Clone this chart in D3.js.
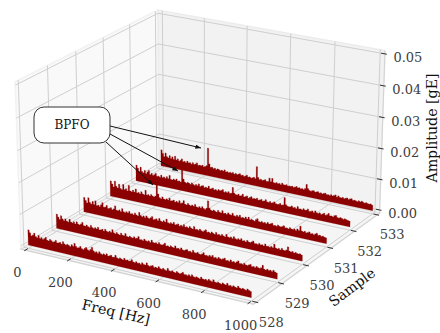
<!DOCTYPE html>
<html>
<head>
<meta charset="utf-8">
<script src="https://cdn.jsdelivr.net/npm/d3@7"></script>
<style>html,body{margin:0;padding:0;background:#fff;overflow:hidden}</style>
</head>
<body>
<svg id="drawing_region" width="440" height="333"></svg>
<script>
const freqTicks = [0, 200, 400, 600, 800, 1000];
const sampleTicks = [528, 529, 530, 531, 532, 533];
const ampTicks = [0, 0.01, 0.02, 0.03, 0.04, 0.05];

// amplitude in milli-g, low to high frequency, ten values a row
const s528 = [
4.9,4.1,3.2,3.6,4.3,3.3,3.1,3.9,3.0,3.4,
2.9,3.3,3.8,3.0,2.9,3.5,3.2,2.8,3.1,3.6,
2.9,3.0,3.3,2.8,3.7,3.1,2.8,3.2,3.0,2.7,
3.4,3.0,4.0,3.2,2.8,3.0,3.5,2.9,2.7,3.2,
3.6,3.0,2.8,3.3,4.1,3.1,2.7,3.0,2.6,3.2,
2.7,2.5,2.9,2.6,3.1,2.5,2.7,3.0,2.5,2.6,
3.3,2.6,2.4,2.8,2.6,2.4,3.0,2.5,2.7,2.4,
2.6,3.1,2.5,2.4,2.8,2.4,2.6,2.3,2.9,2.5,
2.4,3.2,2.5,2.3,2.6,2.8,2.3,2.5,2.3,2.9,
2.4,2.3,2.7,2.4,2.2,3.0,2.4,2.3,2.6,2.3,
2.2,2.7,2.4,2.2,2.5,2.9,2.3,2.4,2.2,2.6,
2.2,2.8,2.3,2.2,2.5,2.3,2.1,2.7,2.3,2.2,
2.4,2.1,2.6,2.3,2.1,2.8,2.2,2.1,2.4,2.2,
2.0,2.5,2.2,2.1,2.7,2.1,2.3,2.0,2.4,2.1,
2.0,2.6,2.2,2.0,2.3,2.1,1.9,2.4,2.1,1.9];
const s529 = [
4.6,3.8,3.1,4.4,3.5,3.0,3.7,3.1,2.9,3.9,
3.1,2.9,3.4,2.8,3.6,3.0,2.8,3.2,3.8,2.9,
2.8,3.3,2.9,2.7,3.5,2.9,2.7,3.1,2.8,3.4,
2.7,2.8,3.1,2.6,3.3,2.8,2.6,3.0,2.7,3.7,
2.8,2.6,3.1,2.7,2.5,3.2,2.7,2.6,3.4,2.6,
2.5,2.9,2.6,2.5,3.0,2.6,2.8,3.4,2.5,2.6,
2.4,3.0,2.6,2.5,2.8,2.4,3.2,2.6,2.5,2.7,
2.4,3.0,2.5,2.4,2.7,3.2,2.4,2.6,2.3,2.8,
2.5,2.4,3.1,2.4,2.6,2.3,2.9,2.4,2.3,2.6,
2.8,2.3,2.5,2.2,3.0,2.4,2.3,2.7,2.3,2.2,
2.5,3.0,2.3,2.4,2.2,2.6,2.3,2.8,2.2,2.4,
2.1,2.6,2.3,2.2,2.5,2.8,2.2,2.3,2.1,2.7,
2.2,2.4,2.1,2.5,2.9,2.2,2.3,2.1,2.6,2.2,
2.1,2.4,2.7,2.1,2.3,2.0,2.5,2.2,2.1,2.4,
3.3,2.2,2.0,2.4,2.1,2.3,2.0,2.5,2.1,1.9];
const s530 = [
4.8,3.9,3.2,5.0,3.6,3.1,4.1,3.2,4.5,3.0,
3.3,2.9,3.6,4.4,3.0,3.2,3.8,2.9,3.1,3.4,
2.8,3.2,4.3,3.0,2.9,3.3,2.8,3.9,3.0,2.8,
3.2,2.9,3.5,2.8,3.0,2.7,3.4,2.9,2.7,3.9,
3.0,2.7,3.1,2.6,3.3,2.8,2.6,3.0,3.5,2.6,
2.8,3.1,2.6,3.4,2.7,2.5,3.0,2.6,3.7,2.7,
2.5,2.9,2.6,3.2,2.5,2.7,3.0,2.4,2.8,2.5,
3.2,2.5,2.7,2.4,3.0,2.6,2.4,3.3,2.5,2.6,
2.4,2.9,2.5,2.3,2.7,3.1,2.4,2.6,2.3,2.8,
2.5,2.3,3.0,2.4,2.6,2.3,2.8,2.4,2.2,3.1,
2.4,2.3,2.6,2.2,2.9,2.4,2.2,2.6,2.3,2.8,
2.2,2.4,2.1,2.7,2.3,2.2,2.5,2.9,2.2,2.3,
2.1,2.6,2.2,2.4,2.1,2.8,2.2,2.3,2.1,2.5,
2.2,3.4,2.3,2.1,2.4,2.0,2.6,2.2,2.1,2.4,
3.5,2.3,2.1,2.4,2.0,2.3,2.1,2.0,2.2,1.9];
const s531 = [
5.1,4.2,3.3,5.3,3.7,3.2,4.6,3.3,3.0,4.8,
3.2,3.6,3.0,4.9,3.2,3.0,3.6,3.1,4.2,3.0,
3.3,2.9,3.7,3.1,2.9,4.5,3.0,3.3,2.9,3.5,
3.1,2.9,3.3,7.1,4.2,3.1,2.8,3.5,3.0,2.8,
3.2,2.9,3.6,2.8,3.0,3.3,2.7,3.1,2.8,3.5,
2.7,3.0,3.8,2.8,2.6,3.2,2.8,2.6,3.0,2.7,
3.4,2.7,2.6,3.0,2.6,3.2,2.7,2.5,3.0,5.5,
3.2,2.7,2.5,2.9,2.6,2.4,3.1,2.6,2.5,3.3,
2.5,2.7,2.4,3.0,2.6,2.5,3.2,2.5,2.4,2.9,
2.5,3.1,2.4,2.6,2.4,2.9,2.4,3.1,2.3,2.6,
2.4,2.2,2.8,3.2,2.4,2.3,2.6,2.3,2.5,2.2,
2.7,2.3,2.5,2.8,2.2,2.3,2.1,2.6,2.3,2.2,
2.5,2.8,2.2,2.3,2.1,2.6,2.3,2.2,2.5,2.1,
2.7,2.3,3.8,2.4,2.2,2.5,2.1,2.3,2.6,2.1,
2.3,2.0,2.4,2.7,2.1,2.3,2.0,2.2,2.0,1.9];
const s532 = [
5.3,4.4,3.4,4.9,3.6,3.2,4.1,3.1,3.8,4.4,
3.1,3.6,3.0,3.4,3.9,3.0,3.2,2.9,3.7,3.0,
3.3,2.9,3.6,3.0,4.2,3.0,2.9,3.3,3.0,3.5,
2.9,3.1,2.8,7.1,4.0,3.1,2.8,3.2,3.0,2.7,
3.3,2.9,2.7,3.1,2.8,3.5,2.7,3.0,3.2,2.6,
2.9,2.7,3.4,2.6,2.8,3.1,2.6,2.8,2.5,3.0,
2.7,2.9,3.3,2.5,2.8,2.6,3.0,2.5,2.7,4.7,
2.9,2.6,2.5,2.9,2.4,2.6,3.2,2.4,2.6,2.9,
2.3,2.6,3.0,2.4,2.6,2.5,2.9,2.3,2.5,2.8,
2.3,2.5,3.0,2.4,2.3,2.7,2.3,2.5,2.9,2.4,
2.3,2.4,2.8,2.3,2.5,5.0,2.8,2.4,2.3,2.4,
2.8,2.3,2.5,2.2,3.0,2.3,2.4,2.2,2.7,2.3,
2.4,2.9,2.2,2.3,2.6,2.1,2.8,2.3,2.2,2.5,
2.1,2.3,2.7,2.1,2.4,2.9,2.2,2.3,2.1,2.6,
2.8,2.2,2.1,2.4,2.2,2.0,2.3,2.1,2.0,1.9];
const s533 = [
5.5,4.4,3.4,4.7,3.6,3.2,4.1,3.2,3.9,3.1,
4.3,3.1,3.6,2.9,3.3,3.9,3.0,3.2,2.9,3.5,
3.0,3.2,2.8,3.4,2.9,3.1,3.6,2.8,3.0,2.9,
3.2,2.7,3.0,3.3,9.3,4.1,3.0,3.2,2.8,3.1,
2.7,3.0,2.9,2.6,2.9,2.7,3.2,2.6,2.8,2.5,
2.8,2.6,2.9,2.4,2.8,2.5,2.7,3.0,2.5,2.7,
2.4,2.6,3.0,2.4,2.6,2.3,2.5,2.8,2.4,6.5,
3.0,2.4,2.6,2.3,2.5,2.8,2.3,2.4,3.6,2.5,
3.7,2.4,2.3,2.6,2.3,2.5,2.2,2.8,2.4,2.3,
2.6,2.2,2.4,2.3,2.5,2.2,2.4,2.7,2.3,2.5,
2.2,2.4,2.1,2.6,4.1,2.8,2.3,2.1,2.4,2.5,
2.1,2.3,2.5,2.1,2.3,2.0,2.3,2.5,2.1,2.2,
2.0,2.4,2.1,2.3,2.6,2.0,2.5,2.1,2.0,2.3,
2.0,2.2,2.4,2.0,2.3,2.5,2.0,2.2,2.1,1.9,
2.3,2.0,2.4,2.1,1.9,2.2,2.0,1.9,2.1,1.8];
const series = [s533, s532, s531, s530, s529, s528];
const seriesSample = [533, 532, 531, 530, 529, 528];

const annotTips = [[201, 148], [178, 171], [153, 185]];
const annotFrom = [[110, 126], [110, 134], [106, 142]];

const xn = d3.scaleLinear().domain([0, 1000]).range([0, 1]);
const yn = d3.scaleLinear().domain([528, 533]).range([0, 1]);
const zn = d3.scaleLinear().domain([0, 0.05]).range([0, 1]);
const sxScale = d3.scaleLinear().domain([0, 1]).range([203.35, 2715.63]);
const syScale = d3.scaleLinear().domain([0, 1]).range([149.61, -2107.79]);
const pad = 1 / 48;

// matplotlib style camera over a 4:4:3 box
function camera(elev, azim, dist) {
    const e = elev * Math.PI / 180, a = azim * Math.PI / 180;
    const k = 1.8294640721620434 / Math.sqrt(41);
    const box = [4 * k, 4 * k, 3 * k];
    const view = [Math.cos(e) * Math.cos(a), Math.cos(e) * Math.sin(a), Math.sin(e)];
    const right = [-Math.sin(a), Math.cos(a), 0];
    const up = [-Math.sin(e) * Math.cos(a), -Math.sin(e) * Math.sin(a), Math.cos(e)];
    return (nx, ny, nz) => {
        const p = [(nx - 0.5) * box[0], (ny - 0.5) * box[1], (nz - 0.5) * box[2]];
        const d = dist - d3.sum(p, (c, i) => c * view[i]);
        return [d3.sum(p, (c, i) => c * right[i]) / d, d3.sum(p, (c, i) => c * up[i]) / d];
    };
}
const cam = camera(23.136, -59.664, 11.241);
const project = (nx, ny, nz) => { const p = cam(nx, ny, nz); return [sxScale(p[0]), syScale(p[1])]; };

const svg = d3.select('#drawing_region');
const line = d3.line();
const poly = pts => line(pts.map(p => project(p[0], p[1], p[2]))) + 'Z';
const seg = (a, b) => line([project(a[0], a[1], a[2]), project(b[0], b[1], b[2])]);
const lo = -pad, hi = 1 + pad;

// panes
svg.append('path').attr('d', poly([[lo,lo,lo],[lo,hi,lo],[lo,hi,hi],[lo,lo,hi]])).attr('fill', '#f9f9f9').attr('stroke', '#f2f2f2').attr('stroke-width', 1.5);
svg.append('path').attr('d', poly([[lo,hi,lo],[hi,hi,lo],[hi,hi,hi],[lo,hi,hi]])).attr('fill', '#f2f2f2').attr('stroke', '#ececec').attr('stroke-width', 1.5);
svg.append('path').attr('d', poly([[lo,lo,lo],[hi,lo,lo],[hi,hi,lo],[lo,hi,lo]])).attr('fill', '#f5f5f5').attr('stroke', '#e4e4e4').attr('stroke-width', 1.5);

// grid
const grid = svg.append('g').attr('fill', 'none').attr('stroke', '#cfcfcf').attr('stroke-width', 1);
freqTicks.forEach(t => {
    const v = xn(t);
    grid.append('path').attr('d', line([[v,lo,lo],[v,hi,lo],[v,hi,hi]].map(p => project(...p))));
});
sampleTicks.forEach(t => {
    const v = yn(t);
    grid.append('path').attr('d', line([[hi,v,lo],[lo,v,lo],[lo,v,hi]].map(p => project(...p))));
});
ampTicks.forEach(t => {
    const v = zn(t);
    grid.append('path').attr('d', line([[lo,lo,v],[lo,hi,v],[hi,hi,v]].map(p => project(...p))));
});

// axis lines
const axes = svg.append('g').attr('stroke', '#d2d2d2').attr('stroke-width', 1).attr('fill', 'none');
axes.append('path').attr('d', seg([lo,lo,lo],[hi,lo,lo]));
axes.append('path').attr('d', seg([hi,lo,lo],[hi,hi,lo]));
axes.append('path').attr('d', seg([hi,hi,lo],[hi,hi,hi]));

// ridges, back to front: stepped top edge over a straight base
series.forEach((vals, k) => {
    const ny = yn(seriesSample[k]);
    const n = vals.length;
    const top = [];
    vals.forEach((v, i) => {
        const z = zn(v / 1000);
        top.push(project(i / n, ny, z), project((i + 1) / n, ny, z));
    });
    const outline = [project(0, ny, 0), ...top, project(1, ny, 0)];
    svg.append('path').attr('d', line(outline) + 'Z').attr('fill', '#8b0000').attr('stroke', '#8b0000').attr('stroke-width', 0.2);
});

// ticks
const ticks = svg.append('g').attr('stroke', '#333').attr('stroke-width', 1);
const tout = 1 / 120, tin = 1 / 60;
freqTicks.forEach(t => ticks.append('path').attr('d', seg([xn(t), lo - tout, lo], [xn(t), lo + tin, lo])));
sampleTicks.forEach(t => ticks.append('path').attr('d', seg([hi - tin, yn(t), lo], [hi + tout, yn(t), lo])));
ampTicks.forEach(t => ticks.append('path').attr('d', seg([hi - tin, hi, zn(t)], [hi + tout, hi, zn(t)])));

// tick labels
const labels = svg.append('g').attr('font-family', '"DejaVu Serif"').attr('font-size', 13).attr('fill', '#3d3d3d').attr('text-anchor', 'middle').attr('dominant-baseline', 'central');
freqTicks.forEach(t => {
    const p = project(xn(t), lo, lo);
    labels.append('text').attr('x', p[0] - 8).attr('y', p[1] + 22).text(t);
});
sampleTicks.forEach(t => {
    const p = project(hi, yn(t), lo);
    labels.append('text').attr('x', p[0] + 15).attr('y', p[1] + 20).text(t);
});
ampTicks.forEach(t => {
    const p = project(hi, hi, zn(t));
    labels.append('text').attr('x', p[0] + 23).attr('y', p[1] + 4).text(t.toFixed(2));
});

// axis titles
const titles = svg.append('g').attr('font-family', '"DejaVu Serif"').attr('font-size', 14.2).attr('fill', '#111').attr('text-anchor', 'middle').attr('dominant-baseline', 'central');
titles.append('text').attr('transform', 'translate(116,312) rotate(13)').text('Freq [Hz]');
titles.append('text').attr('transform', 'translate(352,287) rotate(-37)').text('Sample');
titles.append('text').attr('transform', 'translate(431.5,128) rotate(-90)').text('Amplitude [gE]');

// annotation
svg.append('defs').append('marker').attr('id', 'tip').attr('viewBox', '0 0 10 8').attr('refX', 10).attr('refY', 4)
    .attr('markerWidth', 6).attr('markerHeight', 4.5).attr('markerUnits', 'userSpaceOnUse').attr('orient', 'auto')
    .append('path').attr('d', 'M0,0L10,4L0,8Z').attr('fill', '#111');
annotTips.forEach((t, i) => {
    svg.append('line').attr('x1', annotFrom[i][0]).attr('y1', annotFrom[i][1]).attr('x2', t[0]).attr('y2', t[1])
        .attr('stroke', '#111').attr('stroke-width', 1).attr('marker-end', 'url(#tip)');
});
svg.append('rect').attr('x', 34).attr('y', 107).attr('width', 76).attr('height', 36).attr('rx', 10).attr('fill', '#fff').attr('stroke', '#333').attr('stroke-width', 1);
svg.append('text').attr('x', 72).attr('y', 125).attr('font-family', '"DejaVu Serif"').attr('font-size', 12).attr('fill', '#111')
    .attr('text-anchor', 'middle').attr('dominant-baseline', 'central').text('BPFO');
</script>
</body>
</html>
